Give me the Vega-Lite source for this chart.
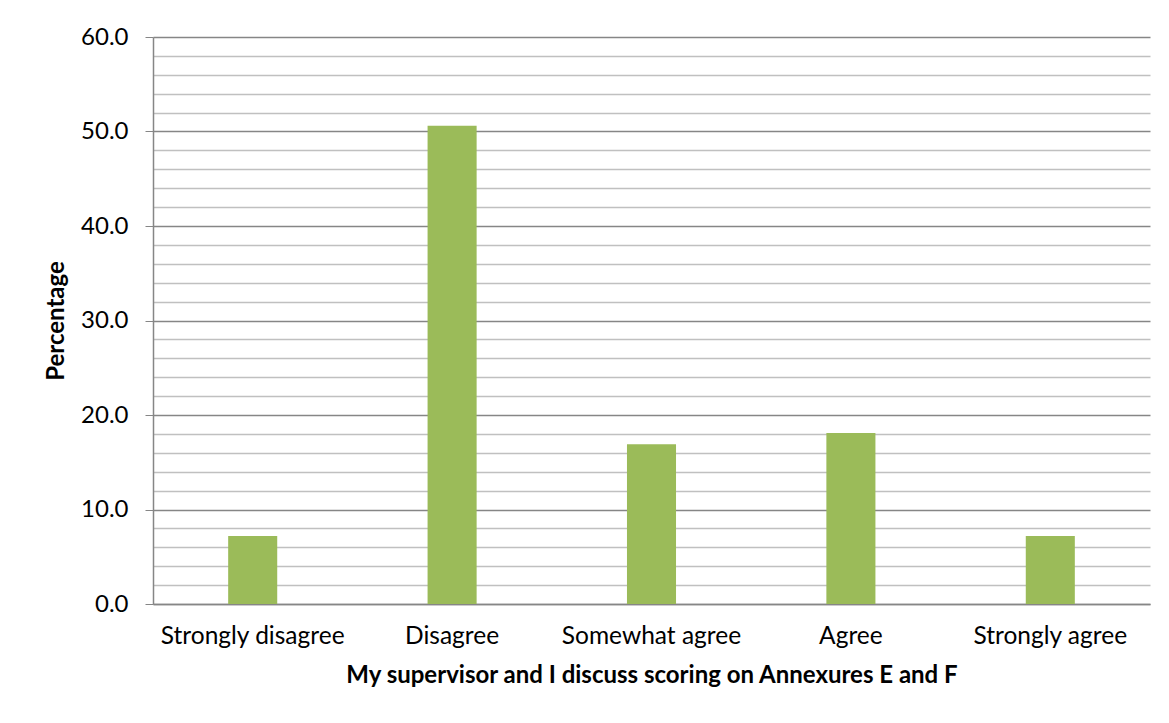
{
  "$schema": "https://vega.github.io/schema/vega-lite/v6.json",
  "autosize": {"type": "none"},
  "padding": {"left": 153, "top": 37, "right": 19, "bottom": 119},
  "width": 997,
  "height": 567,
  "background": "white",
  "config": {
    "font": "Lato",
    "view": {"stroke": null}
  },
  "data": {
    "values": [
      {"response": "Strongly disagree", "percentage": 7.2},
      {"response": "Disagree", "percentage": 50.6},
      {"response": "Somewhat agree", "percentage": 16.9},
      {"response": "Agree", "percentage": 18.1},
      {"response": "Strongly agree", "percentage": 7.2}
    ]
  },
  "mark": {"type": "bar", "color": "#9BBB59"},
  "encoding": {
    "x": {
      "field": "response",
      "type": "nominal",
      "sort": null,
      "scale": {"paddingInner": 0.754, "paddingOuter": 0.377},
      "axis": {
        "title": "My supervisor and I discuss scoring on Annexures E and F",
        "titleFont": "Lato",
        "titleFontSize": 24,
        "titleFontWeight": "bold",
        "titleColor": "#000000",
        "titlePadding": 16,
        "labelAngle": 0,
        "labelFontSize": 24.5,
        "labelColor": "#000000",
        "labelPadding": 20,
        "labelLimit": 0,
        "labelOverlap": false,
        "ticks": false,
        "tickSize": 0,
        "domainColor": "#868686",
        "domainWidth": 1.5,
        "grid": false
      }
    },
    "y": {
      "field": "percentage",
      "type": "quantitative",
      "scale": {"domain": [0, 60], "nice": false},
      "axis": {
        "title": "Percentage",
        "titleFontSize": 24,
        "titleFontWeight": "bold",
        "titleColor": "#000000",
        "titlePadding": 12,
        "values": [0, 2, 4, 6, 8, 10, 12, 14, 16, 18, 20, 22, 24, 26, 28, 30, 32, 34, 36, 38, 40, 42, 44, 46, 48, 50, 52, 54, 56, 58, 60],
        "labelExpr": "datum.value % 10 === 0 ? format(datum.value, '.1f') : ''",
        "labelFontSize": 24,
        "labelColor": "#000000",
        "labelPadding": 17,
        "tickSize": 8,
        "tickColor": "#868686",
        "tickOpacity": {"condition": {"test": "datum.value % 10 === 0", "value": 1}, "value": 0},
        "domainColor": "#868686",
        "domainWidth": 1.5,
        "grid": true,
        "gridColor": {"condition": {"test": "datum.value % 10 === 0", "value": "#868686"}, "value": "#c0c0c0"},
        "gridWidth": 1.3
      }
    }
  }
}
